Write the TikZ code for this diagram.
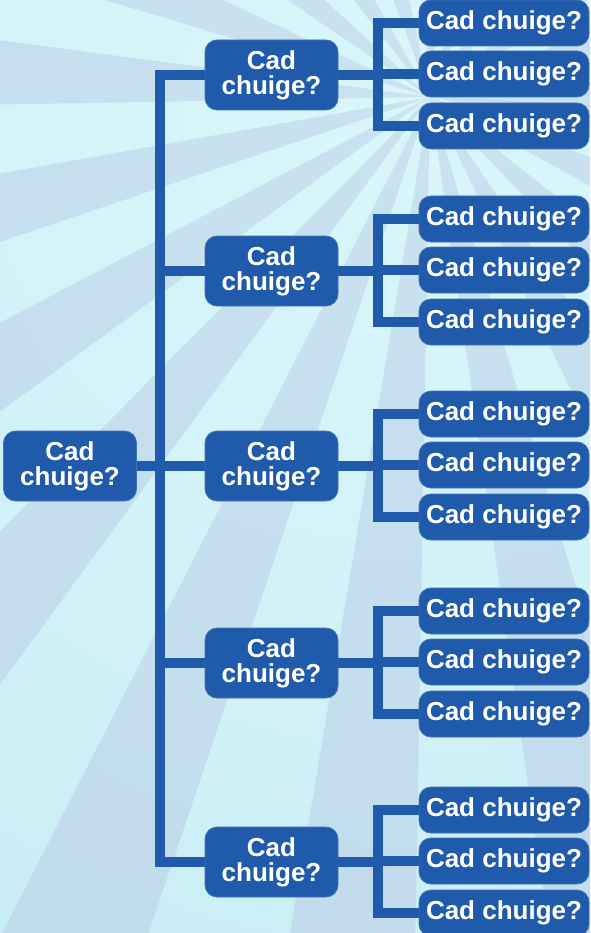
\documentclass[tikz,border=0pt]{standalone}
\usepackage{fontspec}
\setmainfont{Liberation Sans}
\definecolor{nodeblue}{HTML}{1F5BAA}
\definecolor{bgcenter}{HTML}{D9F7FA}
\definecolor{bgedge}{HTML}{C9EDF5}
\definecolor{raycol}{RGB}{171,179,219}
\begin{document}
\begin{tikzpicture}[x=1pt,y=-1pt,
  box/.style={fill=nodeblue, draw=nodeblue!85!white, line width=0.8pt, rounded corners=12pt,
    text=white, inner sep=0pt, align=center,
    font=\fontsize{26}{25}\selectfont\bfseries},
  bigbox/.style={box, minimum width=133pt, minimum height=70pt},
  leafbox/.style={box, minimum width=170pt, minimum height=46pt},
  conn/.style={draw=nodeblue, line width=10pt, line join=miter, line cap=butt}]
\useasboundingbox (0,0) rectangle (590,933);
% background
\begin{scope}
  \clip (0,0) rectangle (590,933);
  \shade[inner color=bgcenter, outer color=bgedge] (430,97) circle (1000pt);
  \foreach \k in {-10,...,10}{
    \pgfmathsetmacro\a{172.5+17.6*\k}
    \pgfmathsetmacro\b{\a+8.5}
    \fill[raycol, opacity=0.3] (430,97) -- ({430+1500*cos(\a)},{97-1500*sin(\a)})
      -- ({430+1500*cos(\b)},{97-1500*sin(\b)}) -- cycle;
  }
\end{scope}
% nodes
\node[bigbox] (root) at (70,466) {Cad\\chuige?};
\foreach \i/\y in {1/75,2/271,3/466,4/663,5/862}{
  \node[bigbox] (m\i) at (271.5,\y) {Cad\\chuige?};
  \pgfmathsetmacro\ya{\y-52}
  \pgfmathsetmacro\yb{\y-1}
  \pgfmathsetmacro\yc{\y+51}
  \node[leafbox] (l\i a) at (504,\ya) {Cad chuige?};
  \node[leafbox] (l\i b) at (504,\yb) {Cad chuige?};
  \node[leafbox] (l\i c) at (504,\yc) {Cad chuige?};
  \coordinate (bar\i) at (378,\y);
  \draw[conn] (l\i a.west) -| (bar\i) |- (l\i c.west);
  \draw[conn] (m\i.east) -- (bar\i);
  \draw[conn] (bar\i |- l\i b.west) -- (l\i b.west);
}
% trunk
\coordinate (trunk) at (160,466);
\draw[conn] (m1.west) -| (trunk) |- (m5.west);
\draw[conn] (root.east) -- (m3.west);
\draw[conn] (trunk |- m2.west) -- (m2.west);
\draw[conn] (trunk |- m4.west) -- (m4.west);
\end{tikzpicture}
\end{document}
